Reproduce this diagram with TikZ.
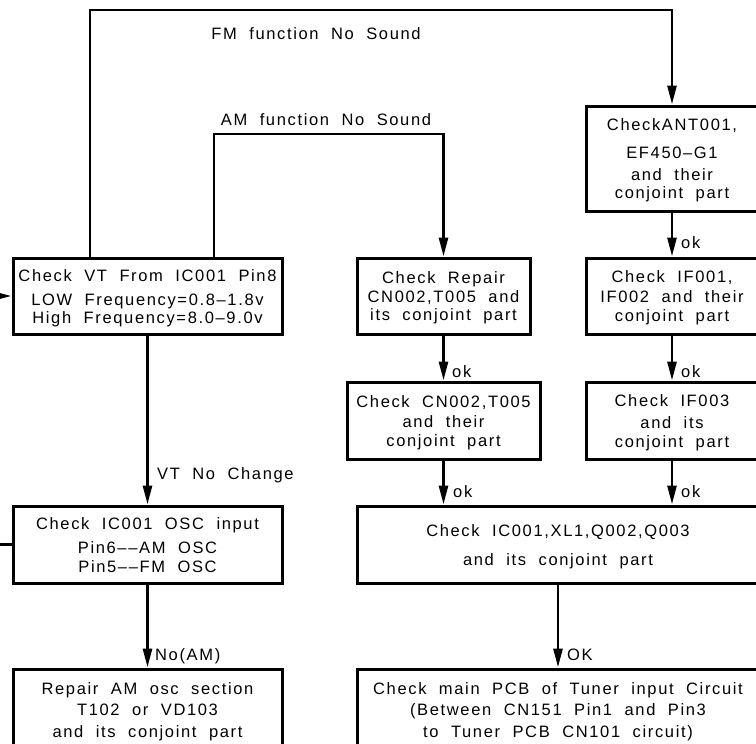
\documentclass[tikz,border=0pt]{standalone}
\usepackage{fontspec}
\setmainfont{Liberation Sans}[LetterSpace=10,WordSpace=2]
\usetikzlibrary{arrows.meta}
\newcommand\fsz{\fontsize{16.5pt}{19pt}\selectfont}
\newcommand\tsr{\rule{0pt}{16.5pt}}
\newcommand\bsr{\rule[-3.7pt]{0pt}{3.7pt}}
\begin{document}
\begin{tikzpicture}[x=1pt,y=-1pt,
  box/.style={draw, line width=3pt, align=center, inner sep=0pt, font=\fsz},
  lbl/.style={inner sep=0pt, font=\fsz},
  con/.style={line width=2.8pt},
  arr/.style={line width=2.8pt, -{Triangle[length=19pt,width=9pt]}}]
\useasboundingbox (0,0) rectangle (756,744);
\clip (0,0) rectangle (756,744);
% boxes
\node[box, minimum width=269pt, minimum height=76pt] (VT) at (147.5,296)
  {\tsr Check VT From IC001 Pin8\\[5pt] LOW Frequency=0.8–1.8v\\[-1pt] High Frequency=8.0–9.0v\bsr};
\node[box, minimum width=269pt, minimum height=77pt] (OSC) at (147.5,544.5)
  {\tsr Check IC001 OSC input\\[5pt] Pin6––AM OSC\\ Pin5––FM OSC\bsr};
\node[box, minimum width=269pt, minimum height=81pt] (REP) at (147.5,709.5)
  {\tsr Repair AM osc section\\[2pt] T102 or VD103\\[3pt] and its conjoint part\bsr};
\node[box, minimum width=173pt, minimum height=76pt] (CR) at (443.5,296)
  {\tsr Check Repair\\ CN002,T005 and\\[-1pt] its conjoint part\bsr};
\node[box, minimum width=193pt, minimum height=77pt] (CN) at (443.5,420.5)
  {\tsr Check CN002,T005\\[1pt] and their\\ conjoint part\bsr};
\node[box, minimum width=172pt, minimum height=105pt] (ANT) at (672,158.5)
  {\tsr CheckANT001,\\[9pt] EF450–G1\\[3pt] and their\\[-1pt] conjoint part\bsr};
\node[box, minimum width=172pt, minimum height=76pt] (IF1) at (672,296)
  {\tsr Check IF001,\\[1pt] IF002 and their\\ conjoint part\bsr};
\node[box, minimum width=172pt, minimum height=77pt] (IF3) at (672,420.5)
  {\tsr Check IF003\\[3pt] and its\\ conjoint part\bsr};
\node[box, minimum width=402pt, minimum height=77pt] (BIG) at (558,544.5)
  {\tsr Check IC001,XL1,Q002,Q003\\[10pt] and its conjoint part\bsr};
\node[box, minimum width=402pt, minimum height=81pt] (PCB) at (558,709.5)
  {\tsr Check main PCB of Tuner input Circuit\\[2pt] (Between CN151 Pin1 and Pin3\\[3pt] to Tuner PCB CN101 circuit)\bsr};
% helper coordinates
\coordinate (fmtop) at (90,10);
\coordinate (amtop) at (214,134);
\coordinate (inL) at (0,296);
\coordinate (outL) at (0,544.5);
% connectors
\draw[arr] (fmtop |- VT.north) -- (fmtop) -| (ANT.north);
\draw[arr] (amtop |- VT.north) -- (amtop) -| (CR.north);
\draw[arr] (inL) -- (VT.west);
\draw[con] (OSC.west) -- (outL);
\draw[arr] (VT.south) -- (OSC.north);
\draw[arr] (OSC.south) -- (REP.north);
\draw[arr] (CR.south) -- (CN.north);
\draw[arr] (CN.south) -- (CN.south |- BIG.north);
\draw[arr] (ANT.south) -- (IF1.north);
\draw[arr] (IF1.south) -- (IF3.north);
\draw[arr] (IF3.south) -- (IF3.south |- BIG.north);
\draw[arr] (BIG.south) -- (PCB.north);
% labels
\node[lbl, anchor=base] (lfm) at (316,39) {FM function No Sound};
\node[lbl, anchor=base] (lam) at (326,125) {AM function No Sound};
\node[lbl, anchor=base west] (lvt) at (157,479) {VT No Change};
\node[lbl, anchor=base west] (lno) at (155,660) {No(AM)};
\node[lbl, anchor=base west] (lok1) at (452,377) {ok};
\node[lbl, anchor=base west] (lok2) at (453,497) {ok};
\node[lbl, anchor=base west] (lok3) at (681,248) {ok};
\node[lbl, anchor=base west] (lok4) at (681,377) {ok};
\node[lbl, anchor=base west] (lok5) at (681,497) {ok};
\node[lbl, anchor=base west] (lOK) at (567,660) {OK};
\end{tikzpicture}
\end{document}
